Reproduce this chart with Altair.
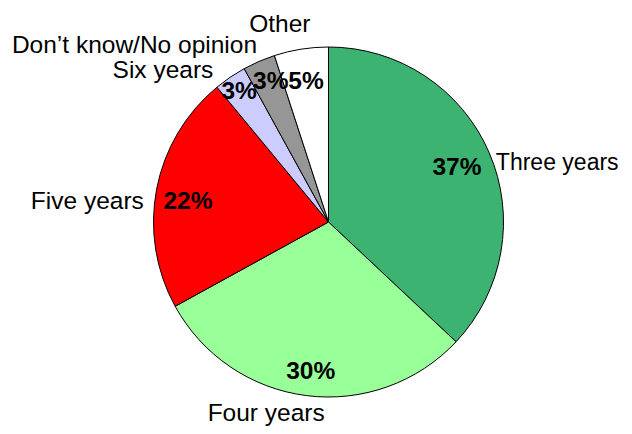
import math
import altair as alt
import pandas as pd

categories = ["Three years", "Four years", "Five years", "Six years",
              "Don\u2019t know/No opinion", "Other"]
values = [37, 30, 22, 3, 3, 5]
pct_labels = ["37%", "30%", "22%", "3%", "3%", "5%"]
colors = ["#3CB371", "#99FF99", "#FF0000", "#CCCCFF", "#969696", "#FFFFFF"]

df = pd.DataFrame({
    "category": categories,
    "value": values,
    "pct": pct_labels,
    "order": list(range(len(categories))),
})

CX, CY = 320.5, 214
R = 175
FONT = "Liberation Sans"
FS = 24.5

# label layout: (radius, dx, dy) for percentages; (align, radius, dx, dy, size) for names
pct_layout = [(140, 0, 1.5), (150, 1, 1), (141, -2, 6), (159, 0, 1.5), (153, 3, 0), (144, 0, 2)]
name_layout = [("left", 190, -7, 16, 23), ("center", 190, -38.5, 3.3, FS), ("right", 190, 2, 15.6, FS),
               ("right", 190, -8.4, 6, FS), ("right", 190, 4, -1.6, FS), ("center", 190, -19, -9, FS)]

theta_scale = alt.Scale(domain=[0, 100], range=[0, 2 * math.pi])

base = (
    alt.Chart(df)
    .transform_window(v1="sum(value)", sort=[alt.SortField("order")])
    .transform_calculate(v0="datum.v1 - datum.value", mid="datum.v1 - datum.value / 2")
)

arcs = base.mark_arc(outerRadius=R, stroke="black", strokeWidth=1).encode(
    theta=alt.Theta("v0:Q", scale=theta_scale, stack=False),
    theta2="v1:Q",
    color=alt.Color("category:N", scale=alt.Scale(domain=categories, range=colors), legend=None),
    x=alt.value(CX),
    y=alt.value(CY),
)

layers = [arcs]
for i in range(len(categories)):
    r, dx, dy = pct_layout[i]
    layers.append(
        base.transform_filter(alt.datum.order == i)
        .mark_text(radius=r, dx=dx, dy=dy, align="center", baseline="middle",
                   font=FONT, fontSize=FS, fontWeight="bold", color="black")
        .encode(theta=alt.Theta("mid:Q", scale=theta_scale, stack=False),
                text="pct:N", x=alt.value(CX), y=alt.value(CY))
    )
    al, r2, dx2, dy2, fs = name_layout[i]
    layers.append(
        base.transform_filter(alt.datum.order == i)
        .mark_text(radius=r2, dx=dx2, dy=dy2, align=al, baseline="middle",
                   font=FONT, fontSize=fs, color="black")
        .encode(theta=alt.Theta("mid:Q", scale=theta_scale, stack=False),
                text="category:N", x=alt.value(CX), y=alt.value(CY))
    )

chart = (
    alt.layer(*layers)
    .properties(width=616, height=418, padding=0,
                autosize=alt.AutoSizeParams(type="none"))
    .configure_view(strokeWidth=0)
)

chart.save("out.html", embed_options={"renderer": "svg", "actions": False})
